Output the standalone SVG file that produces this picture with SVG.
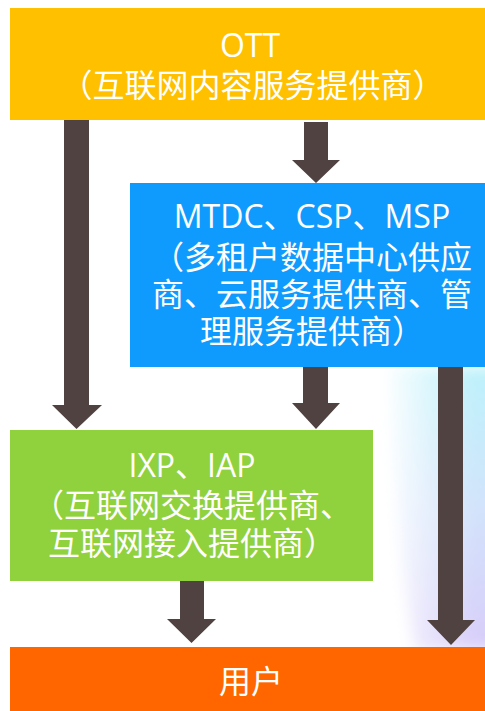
<svg xmlns="http://www.w3.org/2000/svg" width="485" height="711" viewBox="0 0 485 711">
<defs>
<style>
.t{font-family:"Open Sans","Noto Sans CJK SC",sans-serif;font-size:32px;fill:#ffffff;text-anchor:middle}
.arrow{fill:#504240}
</style>
<linearGradient id="glowV" x1="0" y1="0" x2="0" y2="1">
<stop offset="0" stop-color="#bdf2fb"/>
<stop offset="0.5" stop-color="#d2e3fb"/>
<stop offset="1" stop-color="#d8cdf9"/>
</linearGradient>
<linearGradient id="fadeH" gradientUnits="userSpaceOnUse" x1="380" y1="0" x2="475" y2="0">
<stop offset="0" stop-color="#ffffff" stop-opacity="1"/>
<stop offset="0.5" stop-color="#ffffff" stop-opacity="0.45"/>
<stop offset="1" stop-color="#ffffff" stop-opacity="0"/>
</linearGradient>
<filter id="blur" x="-30%" y="-10%" width="160%" height="120%">
<feGaussianBlur stdDeviation="7"/>
</filter>
</defs>
<rect width="485" height="711" fill="#ffffff"/>
<g id="glow">
<g filter="url(#blur)">
<path d="M390 367 L500 367 L500 650 L415 650 Q395 560 390 367 Z" fill="url(#glowV)"/>
<rect x="370" y="360" width="110" height="295" fill="url(#fadeH)"/>
</g>
</g>
<g id="connectors">
<polygon class="arrow" points="64,120 89,120 89,405 102,405 76.5,429 52,405 64,405"/>
<polygon class="arrow" points="304,122 328,122 328,160 340,160 316,183 292,160 304,160"/>
<polygon class="arrow" points="303,367 328,367 328,403 340,403 316,429 292,403 303,403"/>
<polygon class="arrow" points="438,367 463,367 463,620 475,620 451,645 427,620 438,620"/>
<polygon class="arrow" points="180,581 204,581 204,619 216,619 191.5,643 167,619 180,619"/>
</g>
<g id="ott">
<rect x="10" y="8" width="475" height="112" fill="#ffc000"/>
<text class="t"><tspan x="250" y="57">OTT</tspan><tspan x="252.5" y="97">（互联网内容服务提供商）</tspan></text>
</g>
<g id="mtdc">
<rect x="130" y="183" width="355" height="184" fill="#0f9bfd"/>
<text class="t"><tspan x="312" y="228">MTDC、CSP、MSP</tspan><tspan x="312" y="269">（多租户数据中心供应</tspan><tspan x="312" y="306">商、云服务提供商、管</tspan><tspan x="312" y="343">理服务提供商）</tspan></text>
</g>
<g id="ixp">
<rect x="10" y="430" width="363" height="151" fill="#90d13e"/>
<text class="t"><tspan x="192" y="477">IXP、IAP</tspan><tspan x="192" y="517">（互联网交换提供商、</tspan><tspan x="192" y="555">互联网接入提供商）</tspan></text>
</g>
<g id="user">
<rect x="10" y="647" width="475" height="64" fill="#ff6600"/>
<text class="t" x="251" y="693">用户</text>
</g>
</svg>
